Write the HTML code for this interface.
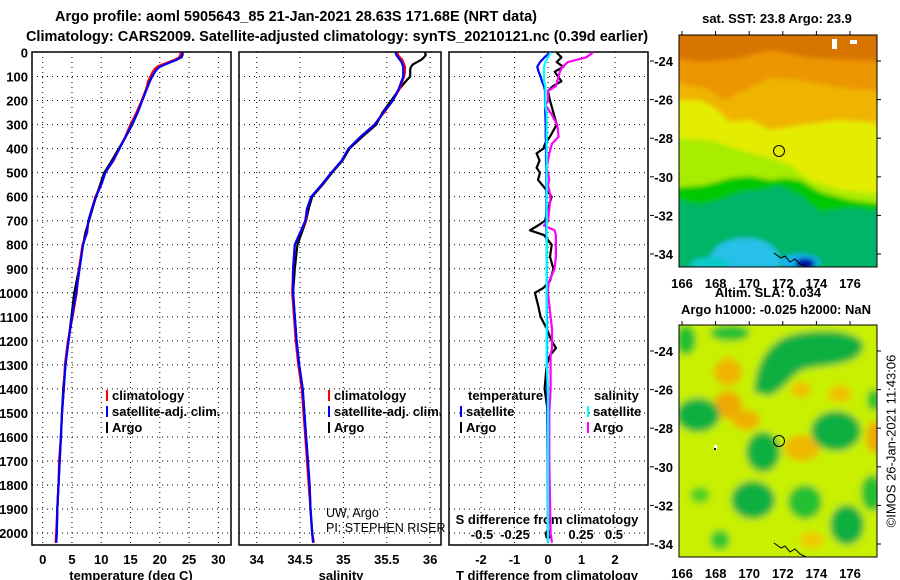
<!DOCTYPE html>
<html><head><meta charset="utf-8">
<style>
html,body{margin:0;padding:0;background:#fff;}
svg{display:block;font-family:"Liberation Sans",sans-serif;}
.b{font-weight:bold;font-size:13px;}
.n{font-weight:normal;font-size:12.5px;}
</style></head>
<body>
<svg id="chart" width="900" height="580" viewBox="0 0 900 580" xmlns="http://www.w3.org/2000/svg">
<defs>
<filter id="bl1" x="-10%" y="-10%" width="120%" height="120%"><feGaussianBlur stdDeviation="2.5"/></filter>
<filter id="bl2" x="-20%" y="-20%" width="140%" height="140%"><feGaussianBlur stdDeviation="3.5"/></filter>
<clipPath id="cm1"><rect x="679" y="35" width="198" height="232"/></clipPath>
<clipPath id="cm2"><rect x="679" y="325" width="198" height="232"/></clipPath>
</defs>
<text class="b" x="296" y="21" text-anchor="middle" style="font-size:14.5px">Argo profile: aoml 5905643_85 21-Jan-2021 28.63S 171.68E (NRT data)</text>
<text class="b" x="337" y="41" text-anchor="middle" style="font-size:14.5px">Climatology: CARS2009. Satellite-adjusted climatology: synTS_20210121.nc (0.39d earlier)</text>

<g id="map1">
<g clip-path="url(#cm1)"><g filter="url(#bl1)">
<rect x="670" y="25" width="220" height="250" fill="#00b468"/>
<path d="M670,25 H890 V212 L850,208 L820,212 L800,195 L780,186 L760,190 L740,192 L720,200 L700,205 L670,198 Z" fill="#00c800"/>
<path d="M670,25 H890 V205 L850,200 L820,192 L800,180 L785,178 L770,180 L750,176 L730,178 L705,185 L670,188 Z" fill="#a8ec00"/>
<path d="M670,25 H890 V195 L840,190 L810,180 L790,165 L770,158 L740,150 L710,140 L670,138 Z" fill="#e4ec00"/>
<path d="M670,25 H890 V124 L840,120 L800,125 L770,130 L750,120 L730,122 L715,108 L700,100 L670,100 Z" fill="#f0b400"/>
<path d="M670,25 H890 V92 L840,88 L800,80 L770,78 L745,90 L725,100 L705,88 L670,82 Z" fill="#ec9600"/>
<path d="M670,25 H890 V62 L850,60 L810,58 L770,50 L740,58 L700,62 L670,58 Z" fill="#d87400"/>
<ellipse cx="745" cy="260" rx="35" ry="22" fill="#28c0e8"/>
<ellipse cx="710" cy="265" rx="20" ry="8" fill="#10c8c8"/>
<ellipse cx="800" cy="262" rx="20" ry="8" fill="#18b0f0"/>
<ellipse cx="805" cy="264" rx="10" ry="6" fill="#0010a0"/>
</g></g>
<rect x="832" y="39" width="5" height="10" fill="#fff"/><rect x="850" y="40" width="7" height="4" fill="#fff"/>
<circle cx="779" cy="151" r="5.5" fill="none" stroke="#000"/>
<path d="M774,253 L781,258 L785,256 L790,262 L795,259 L800,264 L806,266" fill="none" stroke="#000"/>
<rect x="679" y="35" width="198" height="232" fill="none" stroke="#000"/>
<text class="b" x="777" y="23" text-anchor="middle">sat. SST: 23.8 Argo: 23.9</text>
</g>
<g id="map2">
<g clip-path="url(#cm2)"><g filter="url(#bl2)">
<rect x="670" y="315" width="220" height="250" fill="#c8f000"/>
<ellipse cx="728" cy="405" rx="14" ry="14" fill="#f0a800"/>
<ellipse cx="746" cy="420" rx="14" ry="10" fill="#f0b000"/>
<ellipse cx="802" cy="448" rx="18" ry="13" fill="#f0b800"/>
<ellipse cx="876" cy="437" rx="10" ry="16" fill="#f0a800"/>
<ellipse cx="801" cy="390" rx="10" ry="8" fill="#f0c000"/>
<ellipse cx="840" cy="394" rx="12" ry="8" fill="#f0c000"/>
<ellipse cx="728" cy="372" rx="14" ry="14" fill="#f0b400"/>
<ellipse cx="812" cy="540" rx="12" ry="8" fill="#f0c800"/>
<path d="M754,392 C756,358 772,337 800,333 C832,328 858,332 864,345 C860,366 830,364 806,369 C790,374 786,390 768,396 Z" fill="#10b040"/>
<ellipse cx="698" cy="415" rx="22" ry="17" fill="#10b040"/>
<ellipse cx="686" cy="340" rx="10" ry="15" fill="#20c030"/>
<ellipse cx="730" cy="333" rx="20" ry="8" fill="#20c030"/>
<ellipse cx="836" cy="431" rx="25" ry="20" fill="#10b040"/>
<ellipse cx="763" cy="452" rx="17" ry="20" fill="#10b040"/>
<ellipse cx="753" cy="500" rx="22" ry="19" fill="#10b040"/>
<ellipse cx="805" cy="502" rx="17" ry="17" fill="#20c030"/>
<ellipse cx="847" cy="525" rx="17" ry="20" fill="#10b040"/>
<ellipse cx="872" cy="493" rx="11" ry="18" fill="#20c030"/>
<ellipse cx="874" cy="400" rx="7" ry="11" fill="#20c030"/>
<ellipse cx="720" cy="540" rx="10" ry="10" fill="#30c830"/>
<ellipse cx="700" cy="495" rx="10" ry="8" fill="#50d020"/>
</g></g>
<rect x="714" y="445" width="3" height="5" fill="#fff"/><rect x="714" y="448" width="2" height="2" fill="#000"/>
<circle cx="779" cy="441" r="5.5" fill="none" stroke="#000"/>
<path d="M774,543 L781,548 L785,546 L790,552 L795,549 L800,554 L806,557" fill="none" stroke="#000"/>
<rect x="679" y="325" width="198" height="232" fill="none" stroke="#000"/>
<text class="b" x="768" y="297" text-anchor="middle">Altim. SLA: 0.034</text>
<text class="b" x="776" y="314" text-anchor="middle">Argo h1000: -0.025 h2000: NaN</text>
</g>
<text x="892" y="441" font-size="13" text-anchor="middle" transform="rotate(-90 892 441)" dominant-baseline="middle">©IMOS 26-Jan-2021 11:43:06</text>
</svg>
<script>
// ---- data ----
const depths = [0,10,20,30,40,50,60,70,80,100,120,150,200,250,300,350,400,450,500,550,600,650,700,750,800,900,1000,1100,1200,1300,1400,1500,1600,1700,1800,1900,2000,2040];
const tempArgo = [23.9,23.9,23.7,22.8,21.8,20.8,19.9,19.4,19.1,18.7,18.3,17.8,17.0,16.2,15.3,14.2,13.0,11.8,10.5,9.8,9.1,8.5,7.9,7.3,6.9,6.2,5.4,4.9,4.4,3.9,3.5,3.3,3.1,2.9,2.7,2.5,2.4,2.3];
const tempClim = [23.6,23.5,23.3,22.6,21.5,20.4,19.5,19.1,18.8,18.4,18.0,17.7,16.9,16.0,15.0,14.1,13.1,12.1,10.7,10.0,9.0,8.4,7.8,7.6,6.8,6.2,5.8,5.1,4.3,3.8,3.6,3.3,3.1,2.8,2.7,2.5,2.3,2.2];
const tempSat = [23.9,23.8,23.6,22.9,21.9,20.9,20.0,19.5,19.2,18.7,18.3,17.8,17.0,16.2,15.2,14.2,13.1,12.0,10.7,10.0,9.1,8.4,7.8,7.5,6.9,6.3,5.7,5.0,4.4,3.9,3.6,3.3,3.1,2.9,2.7,2.5,2.4,2.3];
const salArgo = [35.94,35.95,35.93,35.9,35.85,35.8,35.78,35.77,35.77,35.77,35.72,35.65,35.55,35.45,35.38,35.22,35.07,34.99,34.87,34.76,34.64,34.6,34.57,34.52,34.47,34.44,34.42,34.44,34.46,34.49,34.53,34.55,34.57,34.59,34.61,34.62,34.64,34.65];
const salClim = [35.62,35.63,35.65,35.68,35.69,35.7,35.71,35.71,35.71,35.7,35.68,35.65,35.57,35.47,35.36,35.2,35.06,34.98,34.86,34.75,34.63,34.58,34.57,34.5,34.44,34.42,34.41,34.43,34.45,34.48,34.52,34.54,34.56,34.58,34.6,34.62,34.64,34.66];
const salSat = [35.6,35.61,35.63,35.65,35.67,35.68,35.69,35.69,35.69,35.69,35.67,35.64,35.57,35.46,35.36,35.2,35.06,34.98,34.86,34.75,34.63,34.58,34.56,34.5,34.44,34.42,34.42,34.44,34.46,34.49,34.53,34.55,34.57,34.59,34.61,34.62,34.64,34.65];
const diffDepths = [0,20,40,60,80,100,120,140,160,200,220,250,300,350,380,400,420,450,480,500,530,550,600,650,700,720,740,760,800,850,900,950,980,1000,1050,1100,1150,1200,1230,1260,1300,1400,1500,1700,2000,2040];
const tDiffArgo = [0.26,0.4,0.26,0.46,0.2,0.3,0.4,0.15,0,0.06,0.1,0.16,0.26,0.06,-0.09,-0.14,-0.34,-0.25,-0.34,-0.24,-0.3,-0.18,0.11,0,-0.09,-0.3,-0.54,-0.12,0.11,0.06,0.16,0.06,-0.14,-0.39,-0.3,-0.22,-0.04,0.11,0.24,0.06,-0.04,-0.1,0,0,0,0];
const tDiffSat = [0.06,-0.1,-0.24,-0.32,-0.28,-0.22,-0.18,-0.12,-0.09,-0.09,-0.08,-0.08,-0.07,-0.07,-0.06,-0.06,-0.06,-0.06,-0.05,-0.05,-0.05,-0.05,-0.05,-0.05,-0.05,-0.05,-0.05,-0.05,-0.04,-0.04,-0.04,-0.04,-0.04,-0.04,-0.04,-0.03,-0.03,-0.03,-0.03,-0.03,-0.03,-0.02,-0.02,-0.01,0,0];
const sDiffArgo = [0.34,0.29,0.15,0.11,0.09,0.08,0.07,0.06,0,0,-0.02,0.02,0.07,0.08,0.03,0.02,0.01,0,-0.01,0,0.01,0,0.02,0.01,0,-0.03,0.05,0.06,0.06,0.06,0.05,0.01,0,0,0.01,0.02,0.03,0.03,0.03,0.02,0.02,0.02,0.01,0.01,0.02,0.03];
const sDiffSat = [0.02,0,-0.02,-0.03,-0.03,-0.03,-0.03,-0.02,-0.02,-0.02,-0.02,-0.01,-0.01,-0.01,-0.01,-0.01,-0.01,-0.01,-0.01,-0.01,-0.01,-0.01,-0.01,-0.01,-0.01,-0.01,-0.01,-0.01,-0.01,-0.01,-0.01,-0.01,-0.01,-0.01,-0.01,-0.01,-0.01,-0.01,-0.01,-0.01,-0.01,0,0,0,0,0];
const depthTicks = [0,100,200,300,400,500,600,700,800,900,1000,1100,1200,1300,1400,1500,1600,1700,1800,1900,2000];
const tempTicks = [0,5,10,15,20,25,30];
const salTicks = ["34","34.5","35","35.5","36"];
const tDiffTicks = [-2,-1,0,1,2];
const sDiffTicks = ["-0.5","-0.25","0","0.25","0.5"];
const lonTicks = [166,168,170,172,174,176];
const latTicks = [-24,-26,-28,-30,-32,-34];

// ---- scales ----
const TOP=52, BOT=545;
const yD = d => 52.5 + d*0.2403;
const xT = t => 42.7 + t*5.855;
const xS = s => 256.7 + (s-34)*86.7;
const xTd = v => 548 + v*33.5;
const xSd = v => 548 + v*132;
const panels = [{x0:32,x1:231},{x0:239,x1:441},{x0:449,x1:648}];
const svg = document.getElementById('chart');
const NS = 'http://www.w3.org/2000/svg';
function mk(tag, attrs, parent){const e=document.createElementNS(NS,tag);for(const k in attrs)e.setAttribute(k,attrs[k]);(parent||svg).appendChild(e);return e;}
function txt(s,x,y,anchor,cls,parent){const e=mk('text',{x:x,y:y,'text-anchor':anchor||'middle','class':cls||'b'},parent);e.textContent=s;return e;}

panels.forEach((p,i)=>{
  const g = mk('g',{});
  
  
  depthTicks.forEach(d=>{ if(d>0) mk('line',{x1:p.x0,x2:p.x1,y1:yD(d),y2:yD(d),stroke:'#000','stroke-dasharray':'1,4'},g); });
  let xs = i===0 ? tempTicks.map(xT) : i===1 ? salTicks.map(s=>xS(+s)) : tDiffTicks.map(xTd);
  xs.forEach(x=>mk('line',{x1:x,x2:x,y1:TOP,y2:BOT,stroke:'#000','stroke-dasharray':'1,4'},g));
  mk('rect',{x:p.x0,y:TOP,width:p.x1-p.x0,height:BOT-TOP,fill:'none',stroke:'#000','stroke-width':1.5},g);
});
const yl = mk('g',{});


depthTicks.forEach(d=>txt(String(d),28,yD(d)+5,'end','b',yl));
const xl = mk('g',{});


tempTicks.forEach(t=>txt(String(t),xT(t),564,'middle','b',xl));
salTicks.forEach(s=>txt(s,xS(+s),564,'middle','b',xl));
tDiffTicks.forEach(v=>txt(String(v),xTd(v),564,'middle','b',xl));
sDiffTicks.forEach(v=>txt(v,xSd(+v),539,'middle','b',xl));
txt('temperature (deg C)',131,580,'middle','b',xl);
txt('salinity',341,580,'middle','b',xl);
txt('T difference from climatology',547,580,'middle','b',xl);
txt('S difference from climatology',547,524,'middle','b',xl);

function line(xsArr, ysArr, xf, yf, color, name, w){
  const pts = xsArr.map((v,i)=>xf(v).toFixed(1)+','+yf(ysArr[i]).toFixed(1)).join(' ');
  const e = mk('polyline',{points:pts,fill:'none',stroke:color,'stroke-width':w||2.2,'stroke-linejoin':'round'});
  
  
  return e;
}
line(tempArgo, depths, xT, yD, '#000', 'temp-argo-line');
line(tempClim, depths, xT, yD, '#f00', 'temp-climatology-line');
line(tempSat, depths, xT, yD, '#00f', 'temp-satellite-line');
line(salArgo, depths, xS, yD, '#000', 'salinity-argo-line');
line(salClim, depths, xS, yD, '#f00', 'salinity-climatology-line');
line(salSat, depths, xS, yD, '#00f', 'salinity-satellite-line');
line(tDiffArgo, diffDepths, xTd, yD, '#000', 'tdiff-argo-line');
line(sDiffArgo, diffDepths, xSd, yD, '#f0f', 'sdiff-argo-line');
line(tDiffSat, diffDepths, xTd, yD, '#00f', 'tdiff-satellite-line');
line(sDiffSat, diffDepths, xSd, yD, '#0ff', 'sdiff-satellite-line');

function leg(x,y,color,label,name){
  const g = mk('g',{});
  
  
  mk('rect',{x:x,y:y-10,width:2,height:11,fill:color},g);
  txt(label,x+6,y,'start','b',g);
}
leg(106,400,'#f00','climatology','legend-climatology');
leg(106,416,'#00f','satellite-adj. clim.','legend-satellite-adj');
leg(106,432,'#000','Argo','legend-argo');
leg(328,400,'#f00','climatology','legend2-climatology');
leg(328,416,'#00f','satellite-adj. clim.','legend2-satellite-adj');
leg(328,432,'#000','Argo','legend2-argo');
txt('temperature',468,400,'start');
txt('salinity',594,400,'start');
leg(460,416,'#00f','satellite','legend-tdiff-satellite');
leg(460,432,'#000','Argo','legend-tdiff-argo');
leg(587,416,'#0ff','satellite','legend-sdiff-satellite');
leg(587,432,'#f0f','Argo','legend-sdiff-argo');
txt('UW, Argo',326,517,'start','n');
txt('PI: STEPHEN RISER',326,532,'start','n');

[0,290].forEach((off,k)=>{
  const g = mk('g',{});
  
  
  lonTicks.forEach(l=>{const x=682+(l-166)*16.8;txt(String(l),x,288+off,'middle','b',g);mk('line',{x1:x,x2:x,y1:31+off,y2:35+off,stroke:'#000'},g);});
  latTicks.forEach(l=>{const y=61+(-24-l)*19.3+off;txt(String(l),673,y+5,'end','b',g);mk('line',{x1:877,x2:881,y1:y,y2:y,stroke:'#000'},g);mk('line',{x1:650,x2:654,y1:y,y2:y,stroke:'#000'},g);});
});
</script>
</body></html>
